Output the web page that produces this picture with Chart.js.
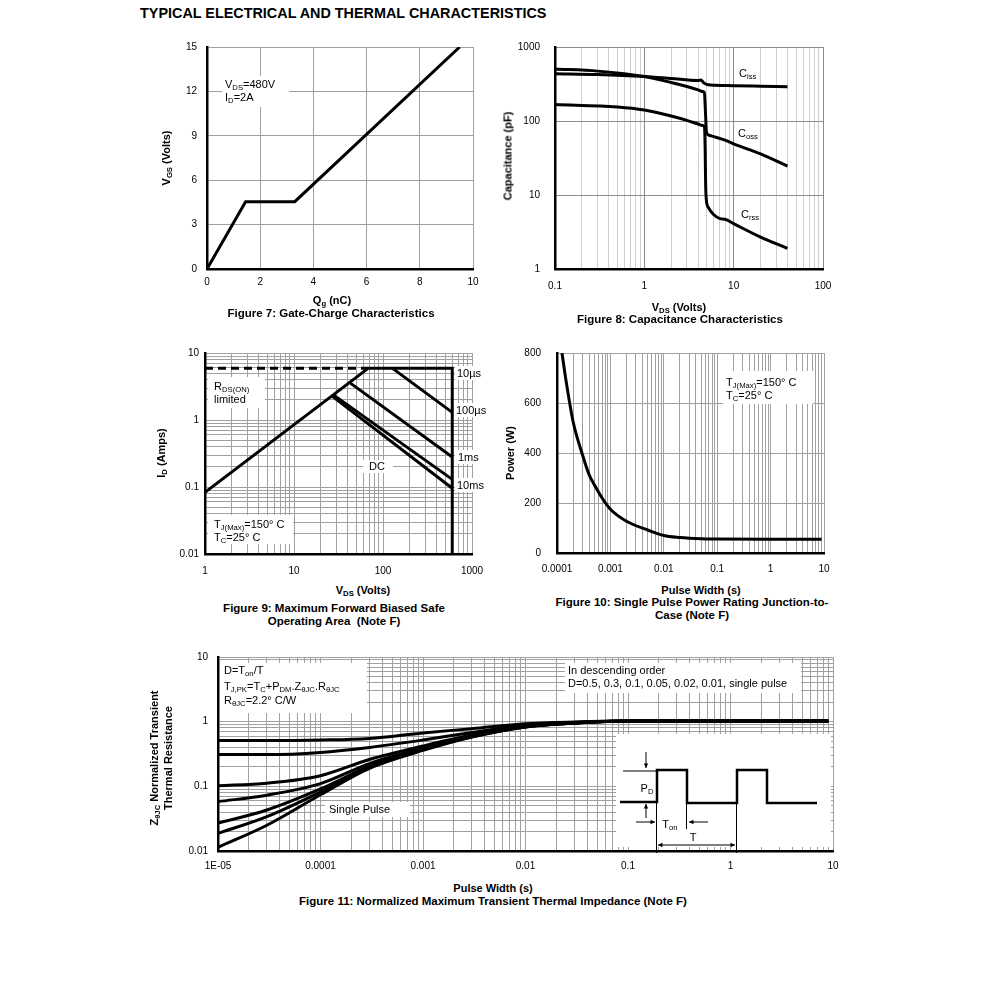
<!DOCTYPE html>
<html>
<head>
<meta charset="utf-8">
<title>Typical electrical and thermal characteristics</title>
<script src="https://cdn.jsdelivr.net/npm/chart.js@4.4.1/dist/chart.umd.min.js"></script>
<style>
  body { margin: 0; background: #fff; }
  #page { position: relative; width: 991px; height: 992px; font-family: "Liberation Sans", Arial, sans-serif; color: #000; }
  canvas { position: absolute; }
  .tx { position: absolute; white-space: nowrap; line-height: 1; font-size: 11px; }
  .c { transform: translate(-50%, -50%); text-align: center; }
  .l { transform: translate(0, -50%); }
  .r { transform: translate(-50%, -50%) rotate(-90deg); text-align: center; }
  .b { font-weight: bold; }
  .cap { font-size: 11.5px; }
  sub { font-size: 70%; vertical-align: baseline; position: relative; top: 0.3em; }
</style>
</head>
<body>
<div id="page">
  <div class="tx b l" style="left:140px;top:13px;font-size:14.4px">TYPICAL ELECTRICAL AND THERMAL CHARACTERISTICS</div>

  <canvas id="fig7" width="318" height="258" style="left:167px;top:37px"></canvas>
  <canvas id="fig8" width="332" height="258" style="left:505px;top:37px"></canvas>
  <canvas id="fig9" width="321" height="237" style="left:165px;top:343px"></canvas>
  <canvas id="fig10" width="326" height="236" style="left:512px;top:343px"></canvas>
  <canvas id="fig11" width="667" height="230" style="left:178px;top:647px"></canvas>

  <!-- Figure 7 -->
  <div class="tx b r" style="left:166px;top:158px">V<sub>GS</sub> (Volts)</div>
  <div class="tx b c" style="left:332px;top:300px">Q<sub>g</sub> (nC)</div>
  <div class="tx b c cap" style="left:331px;top:314px">Figure 7: Gate-Charge Characteristics</div>
  <div class="tx l" style="left:225px;top:84px">V<sub>DS</sub>=480V</div>
  <div class="tx l" style="left:225px;top:97px">I<sub>D</sub>=2A</div>

  <!-- Figure 8 -->
  <div class="tx b r" style="left:508px;top:156px">Capacitance (pF)</div>
  <div class="tx b c" style="left:679px;top:307px">V<sub>DS</sub> (Volts)</div>
  <div class="tx b c cap" style="left:680px;top:320px">Figure 8: Capacitance Characteristics</div>
  <div class="tx l" style="left:739px;top:73px">C<sub>iss</sub></div>
  <div class="tx l" style="left:738px;top:133px">C<sub>oss</sub></div>
  <div class="tx l" style="left:741px;top:214px">C<sub>rss</sub></div>

  <!-- Figure 9 -->
  <div class="tx b r" style="left:161px;top:453px">I<sub>D</sub> (Amps)</div>
  <div class="tx b c" style="left:363px;top:590px">V<sub>DS</sub> (Volts)</div>
  <div class="tx b c cap" style="left:334px;top:609px">Figure 9: Maximum Forward Biased Safe</div>
  <div class="tx b c cap" style="left:334px;top:622px">Operating Area&nbsp; (Note F)</div>
  <div class="tx l" style="left:214px;top:386px">R<sub>DS(ON)</sub></div>
  <div class="tx l" style="left:214px;top:399px">limited</div>
  <div class="tx l" style="left:214px;top:524px">T<sub>J(Max)</sub>=150° C</div>
  <div class="tx l" style="left:214px;top:537px">T<sub>C</sub>=25° C</div>
  <div class="tx c" style="left:377px;top:466px">DC</div>
  <div class="tx l" style="left:457px;top:373px">10µs</div>
  <div class="tx l" style="left:456px;top:410px">100µs</div>
  <div class="tx l" style="left:458px;top:457px">1ms</div>
  <div class="tx l" style="left:457px;top:485px">10ms</div>

  <!-- Figure 10 -->
  <div class="tx b r" style="left:510px;top:453px">Power (W)</div>
  <div class="tx b c" style="left:701px;top:590px">Pulse Width (s)</div>
  <div class="tx b c cap" style="left:692px;top:603px">Figure 10: Single Pulse Power Rating Junction-to-</div>
  <div class="tx b c cap" style="left:692px;top:616px">Case (Note F)</div>
  <div class="tx l" style="left:726px;top:382px">T<sub>J(Max)</sub>=150° C</div>
  <div class="tx l" style="left:726px;top:395px">T<sub>C</sub>=25° C</div>

  <!-- Figure 11 -->
  <div class="tx b r" style="left:161px;top:758px;line-height:12px">Z<sub>θJC</sub> Normalized Transient<br>Thermal Resistance</div>
  <div class="tx b c" style="left:493px;top:888px">Pulse Width (s)</div>
  <div class="tx b c cap" style="left:493px;top:902px">Figure 11: Normalized Maximum Transient Thermal Impedance (Note F)</div>
  <div class="tx l" style="left:224px;top:670px">D=T<sub>on</sub>/T</div>
  <div class="tx l" style="left:224px;top:686px">T<sub>J,PK</sub>=T<sub>C</sub>+P<sub>DM</sub>.Z<sub>θJC</sub>.R<sub>θJC</sub></div>
  <div class="tx l" style="left:224px;top:700px">R<sub>θJC</sub>=2.2° C/W</div>
  <div class="tx l" style="left:568px;top:670px">In descending order</div>
  <div class="tx l" style="left:568px;top:683px">D=0.5, 0.3, 0.1, 0.05, 0.02, 0.01, single pulse</div>
  <div class="tx l" style="left:329px;top:809px">Single Pulse</div>
  <div class="tx c" style="left:647px;top:788px">P<sub>D</sub></div>
  <div class="tx c" style="left:670px;top:824px">T<sub>on</sub></div>
  <div class="tx c" style="left:693px;top:837px">T</div>
</div>

<script>
// ===== DATA =====
// Figure 7: gate charge
const gateQg = [0, 1.45, 3.3, 9.5];
const gateVgs = [0, 4.55, 4.55, 15];
const gateXTicks = [0, 2, 4, 6, 8, 10];
const gateXLabels = ['0', '2', '4', '6', '8', '10'];
const gateYTicks = [0, 3, 6, 9, 12, 15];
const gateYLabels = ['0', '3', '6', '9', '12', '15'];

// Figure 8: capacitance vs VDS
const cissV = [0.1, 0.3, 1, 2, 4, 4.3, 4.6, 5.0, 5.5, 10, 20, 40];
const cissC = [435, 425, 400, 376, 353, 358, 330, 312, 306, 300, 295, 290];
const cossV = [0.1, 0.3, 1, 2, 3, 4, 4.5, 4.7, 4.85, 4.95, 5.2, 6, 8, 10, 20, 40];
const cossC = [504, 472, 400, 331, 292, 263, 250, 242, 120, 72, 65, 61.5, 55, 49, 36, 24.6];
const crssV = [0.1, 0.5, 1, 2, 3, 4, 4.5, 4.7, 4.8, 4.85, 4.95, 5.2, 6, 7, 8, 10, 20, 40];
const crssC = [167, 155, 141, 117, 102, 91, 87, 84, 40, 15, 8.5, 6.8, 5.4, 4.8, 4.7, 4.1, 2.7, 1.9];
const capXTicks = [0.1, 1, 10, 100];
const capXLabels = ['0.1', '1', '10', '100'];
const capYTicks = [1, 10, 100, 1000];
const capYLabels = ['1', '10', '100', '1000'];

// Figure 9: safe operating area
const soaRdsV = [1, 68];
const soaRdsI = [0.083, 5.9];
const soaLimV = [1, 68];
const soaLimI = [5.9, 5.9];
const soa10usV = [68, 600, 600];
const soa10usI = [5.9, 5.9, 0.01];
const soa100usV = [128, 600];
const soa100usI = [5.9, 1.3];
const soa1msV = [43, 600];
const soa1msI = [3.55, 0.28];
const soa10msV = [28, 600];
const soa10msI = [2.35, 0.13];
const soaDcV = [27, 600];
const soaDcI = [2.25, 0.096];
const soaXTicks = [1, 10, 100, 1000];
const soaXLabels = ['1', '10', '100', '1000'];
const soaYTicks = [0.01, 0.1, 1, 10];
const soaYLabels = ['0.01', '0.1', '1', '10'];

// Figure 10: single pulse power
const pwrT = [0.000124, 0.00015, 0.0002, 0.0003, 0.0004, 0.0005, 0.0007, 0.001, 0.002, 0.005, 0.01, 0.02, 0.05, 0.1, 1, 9];
const pwrP = [800, 680, 526, 393, 313, 273, 220, 175, 127, 92, 70, 62, 57, 56, 55, 55];
const pwrXTicks = [0.0001, 0.001, 0.01, 0.1, 1, 10];
const pwrXLabels = ['0.0001', '0.001', '0.01', '0.1', '1', '10'];
const pwrYTicks = [0, 200, 400, 600, 800];
const pwrYLabels = ['0', '200', '400', '600', '800'];

// Figure 11: normalized transient thermal impedance
const zthT = [1e-5, 3e-5, 1e-4, 3e-4, 1e-3, 3e-3, 1e-2, 3e-2, 0.1, 1, 9];
const zthD50 = [0.51, 0.51, 0.52, 0.55, 0.67, 0.78, 0.93, 0.99, 1.02, 1.02, 1.02];
const zthD30 = [0.31, 0.31, 0.335, 0.40, 0.52, 0.68, 0.88, 0.97, 1.02, 1.02, 1.02];
const zthD10 = [0.102, 0.112, 0.146, 0.26, 0.42, 0.62, 0.85, 0.96, 1.02, 1.02, 1.02];
const zthD05 = [0.058, 0.073, 0.11, 0.225, 0.39, 0.60, 0.84, 0.95, 1.02, 1.02, 1.02];
const zthD02 = [0.027, 0.043, 0.091, 0.205, 0.375, 0.59, 0.835, 0.95, 1.02, 1.02, 1.02];
const zthD01 = [0.0187, 0.034, 0.082, 0.20, 0.37, 0.585, 0.83, 0.95, 1.02, 1.02, 1.02];
const zthSingle = [0.0114, 0.025, 0.074, 0.19, 0.36, 0.58, 0.83, 0.95, 1.02, 1.02, 1.02];
const zthXTicks = [1e-5, 1e-4, 1e-3, 1e-2, 0.1, 1, 10];
const zthXLabels = ['1E-05', '0.0001', '0.001', '0.01', '0.1', '1', '10'];
const zthYTicks = [0.01, 0.1, 1, 10];
const zthYLabels = ['0.01', '0.1', '1', '10'];

// white label backgrounds (page px) per figure
const BOXES = {
  fig7: [[222, 76, 67, 31]],
  fig9: [[208, 377, 57, 31], [208, 515, 85, 29], [363, 460, 30, 13],
         [455, 366, 25, 14], [454, 403, 30, 14], [455, 450, 22, 14], [455, 478, 28, 14]],
  fig10: [[723, 371, 90, 33]],
  fig11: [[220, 663, 147, 50], [565, 663, 236, 30], [325, 802, 85, 15], [616, 734, 215, 113]]
};

// ===== HELPERS =====
Chart.defaults.font.family = '"Liberation Sans", Arial, sans-serif';
Chart.defaults.color = '#000';

const GRID = '#a0a0a0';

function pts(xs, ys) { return xs.map((x, i) => ({ x, y: ys[i] })); }

function isDecade(v) { const l = Math.log10(v); return Math.abs(l - Math.round(l)) < 1e-9; }

// grid positions 1..9 x 10^n for a log axis
function logGrid(min, max) {
  const out = [];
  for (let e = Math.round(Math.log10(min)); e < Math.round(Math.log10(max)); e++)
    for (let m = 1; m <= 9; m++) out.push(Number((m * Math.pow(10, e)).toPrecision(6)));
  out.push(max);
  return out;
}

function labelOf(vals, labels) {
  return v => {
    const i = vals.findIndex(d => Math.abs(d - v) <= Math.abs(d) * 1e-6 + 1e-12);
    return i < 0 ? '' : labels[i];
  };
}

function axis(o) {
  const log = o.type === 'logarithmic';
  return {
    type: o.type, position: o.pos, min: o.min, max: o.max,
    afterBuildTicks: s => { s.ticks = (log ? logGrid(o.min, o.max) : o.ticks).map(v => ({ value: v })); },
    afterFit: s => {
      if (o.pos === 'left') s.width = o.size; else s.height = o.size;
      // keep the plot box fixed; edge labels may hang over
      s.paddingLeft = s.paddingRight = s.paddingTop = s.paddingBottom = 0;
    },
    ticks: { autoSkip: false, maxRotation: 0, padding: o.pad, color: '#000', font: { size: 10 }, callback: labelOf(o.ticks, o.labels) },
    grid: {
      drawTicks: false, lineWidth: 1,
      color: c => (log && c.tick && !isDecade(c.tick.value)) ? (o.minor || GRID) : (o.major || GRID)
    },
    border: { display: true, color: '#000', width: 2.5 }
  };
}

function line(data, extra) {
  return Object.assign({ data, showLine: true, borderColor: '#000', borderWidth: 3, pointRadius: 0, fill: false, tension: 0 }, extra || {});
}
const smooth = { cubicInterpolationMode: 'monotone' };

function base(scales, pad) {
  return {
    responsive: false, animation: false, events: [],
    layout: { padding: { top: pad.top, right: pad.right, left: 0, bottom: 0 } },
    plugins: { legend: { display: false }, tooltip: { enabled: false } },
    scales
  };
}

function arrow(ctx, x1, y1, x2, y2) {
  ctx.beginPath(); ctx.moveTo(x1, y1); ctx.lineTo(x2, y2); ctx.stroke();
  const a = Math.atan2(y2 - y1, x2 - x1), h = 5;
  ctx.beginPath(); ctx.moveTo(x2, y2);
  ctx.lineTo(x2 - h * Math.cos(a - 0.45), y2 - h * Math.sin(a - 0.45));
  ctx.lineTo(x2 - h * Math.cos(a + 0.45), y2 - h * Math.sin(a + 0.45));
  ctx.closePath(); ctx.fill();
}

// duty-cycle sketch inside figure 11
function drawPulse(chart) {
  const ctx = chart.ctx, ox = chart.canvas.offsetLeft, oy = chart.canvas.offsetTop;
  ctx.save();
  ctx.translate(-ox, -oy);
  ctx.strokeStyle = '#000'; ctx.fillStyle = '#000';
  ctx.lineWidth = 2.5;
  ctx.beginPath();
  [[620, 802], [657, 802], [657, 770], [687, 770], [687, 803], [737, 803], [737, 770], [767, 770], [767, 803], [817, 803]]
    .forEach((p, i) => i ? ctx.lineTo(p[0], p[1]) : ctx.moveTo(p[0], p[1]));
  ctx.stroke();
  ctx.lineWidth = 1;
  ctx.beginPath();
  ctx.moveTo(623, 771); ctx.lineTo(657, 771);
  ctx.moveTo(656.5, 803); ctx.lineTo(656.5, 853);
  ctx.moveTo(686.5, 804); ctx.lineTo(686.5, 829);
  ctx.moveTo(736.5, 804); ctx.lineTo(736.5, 853);
  ctx.stroke();
  arrow(ctx, 646, 752, 646, 768);
  arrow(ctx, 646, 818, 646, 804);
  arrow(ctx, 636, 822, 655, 822);
  arrow(ctx, 708, 822, 689, 822);
  arrow(ctx, 697, 845, 658, 845);
  arrow(ctx, 697, 845, 735, 845);
  ctx.restore();
}

Chart.register({
  id: 'decor',
  beforeDatasetsDraw(chart) {
    const boxes = BOXES[chart.canvas.id] || [];
    const ctx = chart.ctx, ox = chart.canvas.offsetLeft, oy = chart.canvas.offsetTop;
    ctx.save(); ctx.fillStyle = '#fff';
    boxes.forEach(b => ctx.fillRect(b[0] - ox, b[1] - oy, b[2], b[3]));
    ctx.restore();
  },
  afterDraw(chart) {
    if (chart.canvas.id === 'fig11') drawPulse(chart);
  }
});

// ===== FIGURE 7 =====
new Chart(document.getElementById('fig7'), {
  type: 'scatter',
  data: { datasets: [line(pts(gateQg, gateVgs))] },
  options: base({
    x: axis({ type: 'linear', pos: 'bottom', min: 0, max: 10, ticks: gateXTicks, labels: gateXLabels, size: 26, pad: 7 }),
    y: axis({ type: 'linear', pos: 'left', min: 0, max: 15, ticks: gateYTicks, labels: gateYLabels, size: 40, pad: 10 })
  }, { top: 10, right: 12 })
});

// ===== FIGURE 8 =====
new Chart(document.getElementById('fig8'), {
  type: 'scatter',
  data: { datasets: [
    line(pts(cissV, cissC), smooth),
    line(pts(cossV, cossC), smooth),
    line(pts(crssV, crssC), smooth)
  ] },
  options: base({
    x: axis({ type: 'logarithmic', pos: 'bottom', min: 0.1, max: 100, ticks: capXTicks, labels: capXLabels, size: 26, pad: 11, major: '#8c8c8c', minor: '#cfcfcf' }),
    y: axis({ type: 'logarithmic', pos: 'left', min: 1, max: 1000, ticks: capYTicks, labels: capYLabels, size: 50, pad: 15, major: '#8c8c8c', minor: 'rgba(0,0,0,0)' })
  }, { top: 10, right: 14 })
});

// ===== FIGURE 9 =====
new Chart(document.getElementById('fig9'), {
  type: 'scatter',
  data: { datasets: [
    line(pts(soaLimV, soaLimI), { borderDash: [8, 5] }),
    line(pts(soaRdsV, soaRdsI)),
    line(pts(soa10usV, soa10usI)),
    line(pts(soa100usV, soa100usI)),
    line(pts(soa1msV, soa1msI)),
    line(pts(soa10msV, soa10msI)),
    line(pts(soaDcV, soaDcI))
  ] },
  options: base({
    x: axis({ type: 'logarithmic', pos: 'bottom', min: 1, max: 1000, ticks: soaXTicks, labels: soaXLabels, size: 26, pad: 11 }),
    y: axis({ type: 'logarithmic', pos: 'left', min: 0.01, max: 10, ticks: soaYTicks, labels: soaYLabels, size: 40, pad: 6 })
  }, { top: 10, right: 14 })
});

// ===== FIGURE 10 =====
new Chart(document.getElementById('fig10'), {
  type: 'scatter',
  data: { datasets: [line(pts(pwrT, pwrP), smooth)] },
  options: base({
    x: axis({ type: 'logarithmic', pos: 'bottom', min: 0.0001, max: 10, ticks: pwrXTicks, labels: pwrXLabels, size: 26, pad: 10 }),
    y: axis({ type: 'linear', pos: 'left', min: 0, max: 800, ticks: pwrYTicks, labels: pwrYLabels, size: 45, pad: 16 })
  }, { top: 10, right: 14 })
});

// ===== FIGURE 11 =====
new Chart(document.getElementById('fig11'), {
  type: 'scatter',
  data: { datasets: [zthD50, zthD30, zthD10, zthD05, zthD02, zthD01, zthSingle].map(s => line(pts(zthT, s), smooth)) },
  options: base({
    x: axis({ type: 'logarithmic', pos: 'bottom', min: 1e-5, max: 10, ticks: zthXTicks, labels: zthXLabels, size: 26, pad: 9 }),
    y: axis({ type: 'logarithmic', pos: 'left', min: 0.01, max: 10, ticks: zthYTicks, labels: zthYLabels, size: 40, pad: 10 })
  }, { top: 10, right: 12 })
});
</script>
</body>
</html>
